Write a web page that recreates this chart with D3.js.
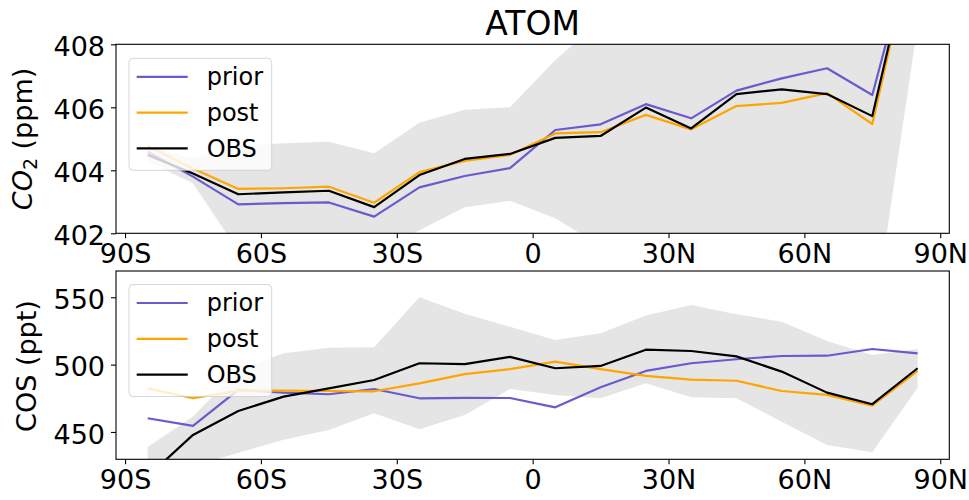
<!DOCTYPE html>
<html>
<head>
<meta charset="utf-8">
<script src="https://cdn.jsdelivr.net/npm/d3@7"></script>
<style>
  body { margin: 0; background: #fff; }
  svg { font-family: "DejaVu Sans", sans-serif; }
</style>
</head>
<body>
<svg id="chart" width="969" height="500"></svg>
<script>
// latitude bin centres
var lats = [-85, -75, -65, -55, -45, -35, -25, -15, -5, 5, 15, 25, 35, 45, 55, 65, 75, 85];

var co2Prior = [404.59, 403.8, 402.92, 402.96, 402.98, 402.53, 403.46, 403.82, 404.07, 405.28, 405.46, 406.1, 405.65, 406.53, 406.92, 407.24, 406.39, 411.8];
var co2Post = [404.77, 404.06, 403.41, 403.43, 403.48, 402.97, 403.94, 404.3, 404.49, 405.17, 405.21, 405.76, 405.3, 406.04, 406.14, 406.45, 405.47, 411.8];
var co2Obs = [404.49, 403.9, 403.24, 403.3, 403.35, 402.83, 403.85, 404.36, 404.52, 405.03, 405.09, 405.99, 405.33, 406.42, 406.57, 406.42, 405.72, 411.9];
var co2Low = [404.27, 403.59, 401.44, 400.8, 400.6, 401.33, 402.1, 402.83, 403.03, 402.48, 401.6, 401.0, 400.5, 400.5, 400.0, 399.5, 398.9, 408.6];
var co2High = [404.75, 404.38, 404.77, 404.86, 404.91, 404.54, 405.51, 405.92, 406.0, 407.5, 408.76, 409.5, 409.5, 410, 410, 410.5, 411, 414];

var cosPrior = [460.2, 454.5, 481.2, 479.2, 478.0, 481.9, 475.0, 475.3, 475.2, 468.3, 483.2, 495.3, 501.0, 504.0, 506.4, 506.6, 511.6, 508.4];
var cosPost = [482.4, 475.0, 480.7, 480.7, 480.4, 480.2, 486.1, 492.9, 496.6, 502.2, 496.6, 491.6, 488.8, 488.0, 480.4, 477.5, 469.5, 495.3];
var cosObs = [417, 447.8, 465.6, 476.2, 482.4, 488.6, 501.0, 500.3, 505.7, 497.3, 499.0, 511.1, 510.1, 506.1, 494.8, 479.2, 470.6, 497.3];
var cosLow = [415, 424.5, 434.5, 444.2, 451.5, 463.9, 452.0, 462.6, 481.9, 477.5, 475.0, 486.1, 475.7, 475.0, 457.6, 440.3, 434.9, 482.9];
var cosHigh = [438.8, 461.4, 496.0, 508.4, 512.6, 512.9, 550.0, 537.8, 528.2, 518.3, 523.3, 536.4, 544.3, 537.4, 531.9, 517.6, 507.2, 511.6];

var xTicks = [-90, -60, -30, 0, 30, 60, 90];
var xTickLabels = ["90S", "60S", "30S", "0", "30N", "60N", "90N"];
var co2Ticks = [402, 404, 406, 408];
var cosTicks = [450, 500, 550];
var seriesNames = ["prior", "post", "OBS"];
var seriesColors = ["#6a5acd", "#ffa500", "#000000"];

var svg = d3.select("#chart");
var left = 116, right = 949.3;

var xScale = d3.scaleLinear().domain([-92, 92]).range([left, right]);

svg.append("text")
  .attr("x", (left + right) / 2)
  .attr("y", 35)
  .attr("text-anchor", "middle")
  .style("font-size", "33px")
  .text("ATOM");

function drawPanel(id, top, bottom, yDomain, yTicks, low, high, series, legendTop) {
  var yScale = d3.scaleLinear().domain(yDomain).range([bottom, top]);

  svg.append("clipPath").attr("id", id)
    .append("rect")
    .attr("x", left).attr("y", top)
    .attr("width", right - left).attr("height", bottom - top);

  var plot = svg.append("g").attr("clip-path", "url(#" + id + ")");

  var area = d3.area()
    .x(function (d, i) { return xScale(lats[i]); })
    .y0(function (d, i) { return yScale(low[i]); })
    .y1(function (d, i) { return yScale(high[i]); });

  plot.append("path")
    .datum(lats)
    .attr("d", area)
    .attr("fill", "lightgray")
    .attr("fill-opacity", 0.6);

  var line = d3.line()
    .x(function (d, i) { return xScale(lats[i]); })
    .y(function (d) { return yScale(d); });

  series.forEach(function (s, k) {
    plot.append("path")
      .datum(s)
      .attr("d", line)
      .attr("fill", "none")
      .attr("stroke", seriesColors[k])
      .attr("stroke-width", 2.2)
      .attr("stroke-linejoin", "round");
  });

  // axes
  var xAxis = svg.append("g")
    .attr("transform", "translate(0," + bottom + ")")
    .call(d3.axisBottom(xScale).tickValues(xTicks).tickSize(5).tickPadding(6)
      .tickFormat(function (d, i) { return xTickLabels[i]; }));
  xAxis.selectAll("text").style("font-size", "27px").attr("dy", "0.71em");

  var yAxis = svg.append("g")
    .attr("transform", "translate(" + left + ",0)")
    .call(d3.axisLeft(yScale).tickValues(yTicks).tickSize(5).tickPadding(6)
      .tickFormat(d3.format("d")));
  yAxis.selectAll("text").style("font-size", "27px").attr("dy", "0.42em");

  [xAxis, yAxis].forEach(function (a) {
    a.select(".domain").remove();
    a.selectAll("line").attr("stroke", "#000").attr("stroke-width", 1.1);
    a.selectAll("text").attr("fill", "#000").style("font-family", "DejaVu Sans");
  });

  svg.append("rect")
    .attr("x", left).attr("y", top)
    .attr("width", right - left).attr("height", bottom - top)
    .attr("fill", "none")
    .attr("stroke", "#000")
    .attr("stroke-width", 1.1);

  // legend
  var lg = svg.append("g");
  lg.append("rect")
    .attr("x", 129).attr("y", legendTop)
    .attr("width", 142.7).attr("height", 112)
    .attr("rx", 4)
    .attr("fill", "#fff").attr("fill-opacity", 0.8)
    .attr("stroke", "#ccc").attr("stroke-opacity", 0.8);

  seriesNames.forEach(function (name, k) {
    var ly = legendTop + 18.5 + k * 35.8;
    lg.append("line")
      .attr("x1", 136.7).attr("x2", 187.7)
      .attr("y1", ly).attr("y2", ly)
      .attr("stroke", seriesColors[k])
      .attr("stroke-width", 2.2);
    lg.append("text")
      .attr("x", 206.7).attr("y", ly + 8.4)
      .style("font-size", "24px")
      .text(name);
  });

  return yScale;
}

drawPanel("clipTop", 44.3, 233.3, [402, 408], co2Ticks, co2Low, co2High,
  [co2Prior, co2Post, co2Obs], 58.3);
drawPanel("clipBottom", 271, 459.3, [429.7, 569.5], cosTicks, cosLow, cosHigh,
  [cosPrior, cosPost, cosObs], 284.5);

// y labels
var co2Label = svg.append("text")
  .attr("transform", "translate(32," + 139 + ")rotate(-90)")
  .attr("text-anchor", "middle")
  .style("font-size", "27px");
co2Label.append("tspan").style("font-style", "italic").text("CO");
co2Label.append("tspan").attr("dy", 5).style("font-size", "19px").text("2");
co2Label.append("tspan").attr("dy", -5).text(" (ppm)");

svg.append("text")
  .attr("transform", "translate(36," + 366 + ")rotate(-90)")
  .attr("text-anchor", "middle")
  .style("font-size", "27px")
  .text("COS (ppt)");
</script>
</body>
</html>
